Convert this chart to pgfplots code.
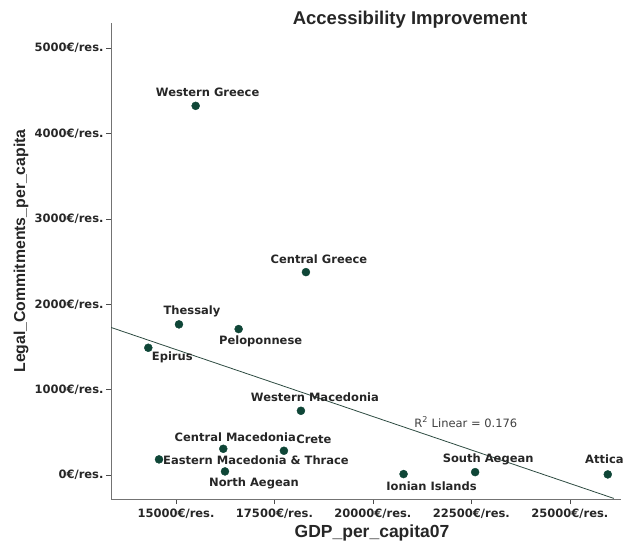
\documentclass[border=0pt]{standalone}
\usepackage{fontspec}
\setmainfont{Liberation Sans}
\newfontfamily\dv{DejaVu Sans}
\usepackage{pgfplots}
\pgfplotsset{compat=1.18}
\definecolor{pt}{RGB}{15,70,55}
\definecolor{fit}{RGB}{45,75,65}
\begin{document}
\begin{tikzpicture}
\useasboundingbox (0,0) rectangle (626pt,550pt);
\begin{axis}[
  at={(111pt,51pt)}, anchor=south west,
  scale only axis, width=510pt, height=476pt,
  xmin=13350, xmax=26300, ymin=-280, ymax=5294,
  axis x line=bottom, axis y line=left,
  axis line style={black!55, -},
  scaled x ticks=false, scaled y ticks=false,
  xtick={15000,17500,20000,22500,25000},
  xticklabels={15000€/res.,17500€/res.,20000€/res.,22500€/res.,25000€/res.},
  ytick={0,1000,2000,3000,4000,5000},
  yticklabels={0€/res.,1000€/res.,2000€/res.,3000€/res.,4000€/res.,5000€/res.},
  tick align=outside, major tick length=5pt,
  tick style={black!70, line width=0.6pt},
  ticklabel style={font=\dv\bfseries\fontsize{11.5}{13}\selectfont, text=black!85},
  xticklabel style={yshift=-1pt},
  yticklabel style={xshift=1pt},
  clip mode=individual,
]
\addplot[only marks, mark=*, mark size=4pt, color=pt] coordinates {
(15500,4324) (18300,2377) (15076,1765) (16591,1710) (14297,1491)
(18173,753) (16201,308) (17741,285) (14569,184) (16244,43)
(20779,12) (22596,35) (25964,8)
};
\addplot[no marks, color=fit, line width=0.8pt] coordinates {(13350,1729) (26117,-273)};
\begin{scope}[every node/.style={font=\dv\bfseries\fontsize{11.5}{13}\selectfont, text=black!85, inner sep=0pt}]
\node[xshift=12pt,yshift=14pt] at (axis cs:15500,4324) {Western Greece};
\node[xshift=13pt,yshift=13pt] at (axis cs:18300,2377) {Central Greece};
\node[xshift=13pt,yshift=13pt] at (axis cs:15076,1765) {Thessaly};
\node[xshift=22pt,yshift=-12pt] at (axis cs:16591,1710) {Peloponnese};
\node[xshift=24pt,yshift=-10pt] at (axis cs:14297,1491) {Epirus};
\node[xshift=14pt,yshift=14pt] at (axis cs:18173,753) {Western Macedonia};
\node[xshift=12pt,yshift=12pt] at (axis cs:16201,308) {Central Macedonia};
\node[xshift=30pt,yshift=11pt] at (axis cs:17741,285) {Crete};
\node[anchor=west,xshift=4pt,yshift=-1pt] at (axis cs:14569,184) {Eastern Macedonia \& Thrace};
\node[xshift=29pt,yshift=-12pt] at (axis cs:16244,43) {North Aegean};
\node[xshift=28pt,yshift=-12pt] at (axis cs:20779,12) {Ionian Islands};
\node[xshift=13pt,yshift=13pt] at (axis cs:22596,35) {South Aegean};
\node[anchor=east,xshift=16pt,yshift=15pt] at (axis cs:25964,8) {Attica};
\end{scope}
\node[font=\dv\fontsize{11.5}{13}\selectfont, text=black!75] at (axis cs:22360,621) {R\textsuperscript{2} Linear = 0.176};
\end{axis}
\node[font=\bfseries\fontsize{18.5}{21}\selectfont, text=black!85] at (410pt,530pt) {Accessibility Improvement};
\node[font=\bfseries\fontsize{17.5}{20}\selectfont, text=black!85] at (372pt,17pt) {GDP\_per\_capita07};
\node[font=\bfseries\fontsize{15.8}{19}\selectfont, text=black!85, rotate=90] at (21pt,299pt) {Legal\_Commitments\_per\_capita};
\end{tikzpicture}
\end{document}
